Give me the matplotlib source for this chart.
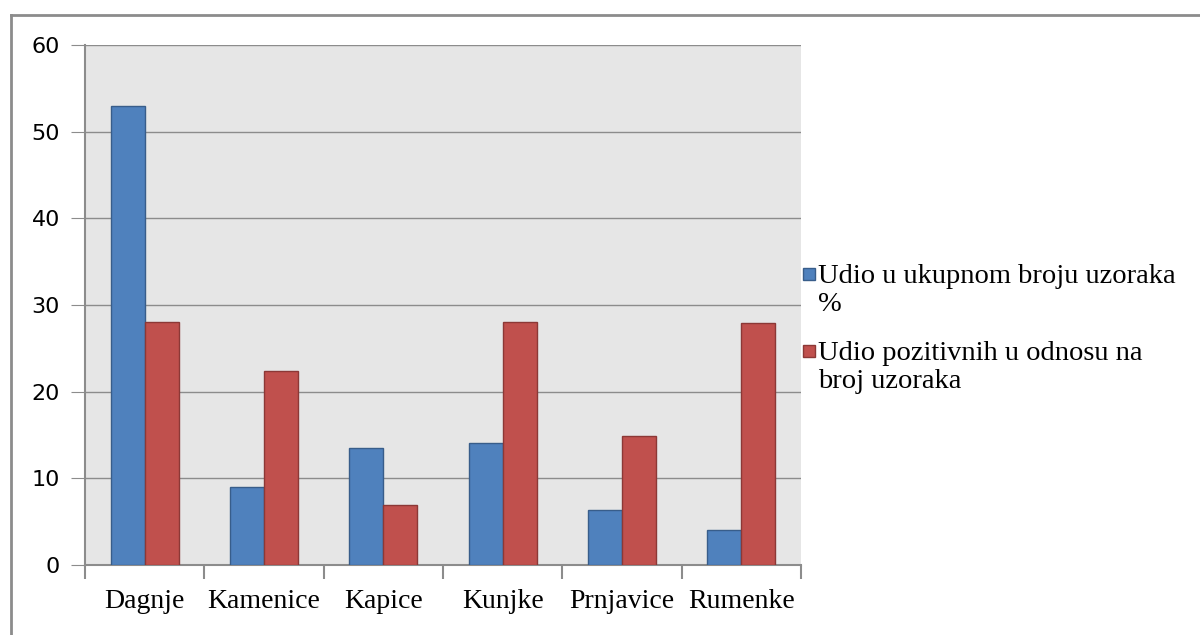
import matplotlib
matplotlib.use('Agg')
import matplotlib.pyplot as plt
from matplotlib.lines import Line2D
from matplotlib.patches import Rectangle
import numpy as np

categories = ['Dagnje', 'Kamenice', 'Kapice', 'Kunjke', 'Prnjavice', 'Rumenke']
udio_ukupno = [53.0, 9.0, 13.5, 14.1, 6.35, 4.05]
udio_pozitivnih = [28.0, 22.4, 6.95, 28.0, 14.9, 27.9]
series_labels = ['Udio u ukupnom broju uzoraka\n%',
                 'Udio pozitivnih u odnosu na\nbroj uzoraka']
y_ticks = [0, 10, 20, 30, 40, 50, 60]

blue, blue_edge = '#4f81bd', '#385d8a'
red, red_edge = '#c0504d', '#8c3836'
grid_grey = '#8c8c8c'
serif = ['Liberation Serif', 'DejaVu Serif']

fig = plt.figure(figsize=(12, 6.35), dpi=100)
ax = fig.add_axes([85 / 1200, 70 / 635, 716 / 1200, 520 / 635])
ax.set_facecolor('#e6e6e6')

x = np.arange(len(categories))
width = 0.285
ax.bar(x - width / 2, udio_ukupno, width, color=blue, edgecolor=blue_edge,
       linewidth=1, zorder=3)
ax.bar(x + width / 2, udio_pozitivnih, width, color=red, edgecolor=red_edge,
       linewidth=1, zorder=3)

ax.set_xlim(-0.5, len(categories) - 0.5)
ax.set_ylim(0, 60)
ax.set_yticks(y_ticks)
ax.yaxis.grid(True, color=grid_grey, linewidth=1, zorder=1)
ax.tick_params(axis='y', length=10, color=grid_grey, labelsize=16, pad=8)

ax.set_xticks(x)
ax.set_xticklabels(categories, family=serif, fontsize=20)
ax.set_xticks(np.arange(-0.5, len(categories)), minor=True)
ax.tick_params(axis='x', which='major', length=0, pad=17)
ax.tick_params(axis='x', which='minor', length=10, color=grid_grey, width=1.5)

for side in ('left', 'bottom'):
    ax.spines[side].set_color(grid_grey)
    ax.spines[side].set_linewidth(1.5)
ax.spines['right'].set_visible(False)
ax.spines['top'].set_visible(False)

# legend drawn by hand so the key sits beside the first text line
for i, (label, face, edge) in enumerate(zip(series_labels, [blue, red],
                                             [blue_edge, red_edge])):
    top = 268 + 77 * i
    fig.add_artist(Rectangle((803 / 1200, 1 - (top + 12) / 635), 12 / 1200,
                             12 / 635, facecolor=face, edgecolor=edge,
                             linewidth=1))
    fig.text(818 / 1200, 1 - (top - 4) / 635, label, family=serif,
             fontsize=20.5, va='top', ha='left', linespacing=1.15)

# outer chart frame (left and top edges)
fig.add_artist(Line2D([11 / 1200, 11 / 1200], [0, 1 - 15 / 635],
                      color='#8c8c8c', linewidth=2))
fig.add_artist(Line2D([11 / 1200, 1], [1 - 15 / 635, 1 - 15 / 635],
                      color='#8c8c8c', linewidth=2))

fig.savefig('out.png', dpi=100)
